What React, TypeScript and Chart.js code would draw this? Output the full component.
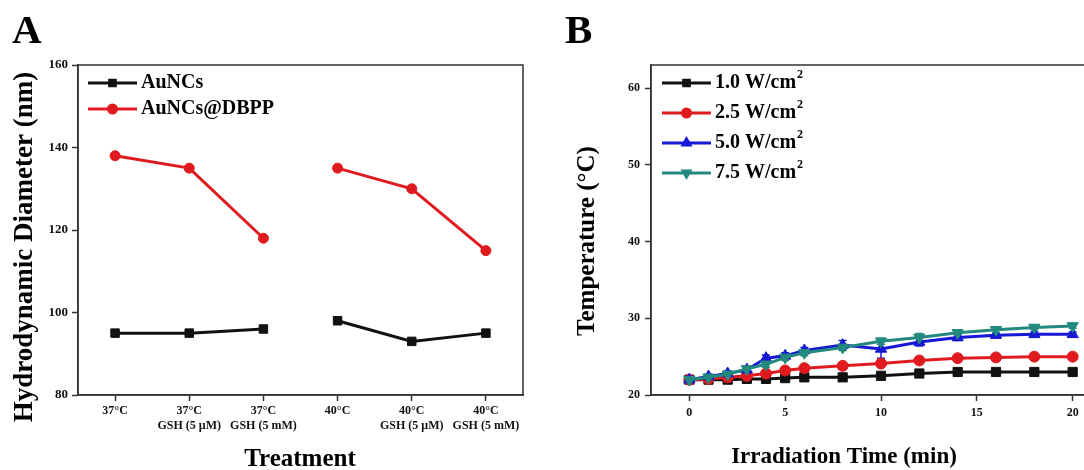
import React, { useEffect, useRef } from "react";
import { Chart, registerables } from "chart.js";
import { drawPoint } from "chart.js/helpers";

Chart.register(...registerables);

const FONT = '"Liberation Serif", "Times New Roman", Times, serif';

// ---------- Panel A data ----------
const treatmentLabels = [
  ["37°C"],
  ["37°C", "GSH (5 μM)"],
  ["37°C", "GSH (5 mM)"],
  ["40°C"],
  ["40°C", "GSH (5 μM)"],
  ["40°C", "GSH (5 mM)"],
];
const aSeriesNames = ["AuNCs", "AuNCs@DBPP"];
const diameterAuNCs = [95, 95, 96, 98, 93, 95];
const diameterAuNCsDBPP = [138, 135, 118, 135, 130, 115];
const aYTicks = [80, 100, 120, 140, 160];
const breakAfterIndex = 2; // the 37°C group and the 40°C group are not joined

// ---------- Panel B data ----------
const timeMin = [0, 1, 2, 3, 4, 5, 6, 8, 10, 12, 14, 16, 18, 20];
const bSeriesNames = ["1.0 W/cm²", "2.5 W/cm²", "5.0 W/cm²", "7.5 W/cm²"];
const temp10 = [22.0, 22.0, 22.0, 22.1, 22.1, 22.2, 22.3, 22.3, 22.5, 22.8, 23.0, 23.0, 23.0, 23.0];
const temp25 = [22.0, 22.1, 22.3, 22.5, 22.8, 23.2, 23.5, 23.8, 24.1, 24.5, 24.8, 24.9, 25.0, 25.0];
const temp50 = [22.0, 22.4, 22.8, 23.3, 24.8, 25.1, 25.8, 26.5, 26.0, 26.9, 27.5, 27.8, 27.9, 27.9];
const temp75 = [22.0, 22.3, 22.7, 23.4, 24.0, 24.9, 25.5, 26.2, 27.0, 27.5, 28.1, 28.5, 28.8, 29.0];
const err10 = [0.2, 0.2, 0.2, 0.2, 0.2, 0.2, 0.2, 0.2, 0.2, 0.2, 0.2, 0.2, 0.2, 0.2];
const err25 = [0.2, 0.2, 0.2, 0.2, 0.2, 0.3, 0.2, 0.3, 0.3, 0.2, 0.2, 0.2, 0.2, 0.2];
const err50 = [0.2, 0.3, 0.3, 0.3, 0.4, 0.4, 0.4, 0.6, 1.2, 0.5, 0.4, 0.3, 0.3, 0.3];
const err75 = [0.2, 0.3, 0.4, 0.3, 0.4, 0.4, 0.4, 0.4, 0.4, 0.5, 0.4, 0.4, 0.3, 0.3];
const bXTicks = [0, 5, 10, 15, 20];
const bYTicks = [20, 30, 40, 50, 60];

// ---------- styles ----------
const AXIS_COLOR = "#333333";
const BLACK = "#111111";
const RED = "#e01b1f";
const BLUE = "#1717d6";
const TEAL = "#23897f";

// ---------- plugins ----------
const framePlugin = {
  id: "frame",
  afterDatasetsDraw(chart: any, _a: any, opts: any) {
    const { ctx, chartArea } = chart;
    ctx.save();
    ctx.strokeStyle = opts.color || AXIS_COLOR;
    ctx.lineWidth = opts.width || 1.5;
    ctx.strokeRect(chartArea.left, chartArea.top, chartArea.right - chartArea.left, chartArea.bottom - chartArea.top);
    ctx.restore();
  },
};

const insideLegendPlugin = {
  id: "insideLegend",
  afterDraw(chart: any, _a: any, opts: any) {
    if (!opts || !opts.items) return;
    const { ctx, chartArea } = chart;
    ctx.save();
    opts.items.forEach((it: any, i: number) => {
      const y = chartArea.top + opts.top + i * opts.rowHeight;
      const x0 = chartArea.left + opts.left;
      const x1 = x0 + opts.lineLength;
      ctx.strokeStyle = it.color;
      ctx.lineWidth = it.lineWidth;
      ctx.beginPath();
      ctx.moveTo(x0, y);
      ctx.lineTo(x1, y);
      ctx.stroke();
      ctx.fillStyle = it.color;
      ctx.strokeStyle = it.color;
      drawPoint(ctx, { pointStyle: it.pointStyle, rotation: it.rotation || 0, radius: it.radius, borderWidth: 1 } as any, (x0 + x1) / 2, y);
      const size = opts.fontSize;
      ctx.fillStyle = "#000";
      ctx.font = `bold ${size}px ${FONT}`;
      ctx.textAlign = "left";
      ctx.textBaseline = "middle";
      const tx = x1 + opts.textGap;
      const label: string = it.text;
      if (label.endsWith("²")) {
        const base = label.slice(0, -1);
        ctx.fillText(base, tx, y);
        const w = ctx.measureText(base).width;
        ctx.font = `bold ${Math.round(size * 0.58)}px ${FONT}`;
        ctx.fillText("2", tx + w + 1, y - size * 0.38);
      } else {
        ctx.fillText(label, tx, y);
      }
    });
    ctx.restore();
  },
};

const textLayerPlugin = {
  id: "textLayer",
  afterDraw(chart: any, _a: any, opts: any) {
    if (!opts || !opts.items) return;
    const { ctx } = chart;
    opts.items.forEach((t: any) => {
      ctx.save();
      ctx.translate(t.x, t.y);
      ctx.rotate(t.rotation || 0);
      ctx.font = `bold ${t.size}px ${FONT}`;
      ctx.fillStyle = "#000";
      ctx.textAlign = t.align || "center";
      ctx.textBaseline = t.baseline || "alphabetic";
      ctx.fillText(t.text, 0, 0);
      ctx.restore();
    });
  },
};

const errorBarPlugin = {
  id: "errorBars",
  beforeDatasetsDraw(chart: any, _a: any, opts: any) {
    if (!opts || !opts.sets) return;
    const { ctx, scales } = chart;
    ctx.save();
    opts.sets.forEach((s: any) => {
      const ds = chart.data.datasets[s.datasetIndex];
      ctx.strokeStyle = ds.borderColor;
      ctx.lineWidth = 1.5;
      ds.data.forEach((p: any, i: number) => {
        const e = s.errors[i];
        const x = scales.x.getPixelForValue(p.x);
        const yTop = scales.y.getPixelForValue(p.y + e);
        const yBot = scales.y.getPixelForValue(p.y - e);
        ctx.beginPath();
        ctx.moveTo(x, yTop);
        ctx.lineTo(x, yBot);
        ctx.moveTo(x - 4, yTop);
        ctx.lineTo(x + 4, yTop);
        ctx.moveTo(x - 4, yBot);
        ctx.lineTo(x + 4, yBot);
        ctx.stroke();
      });
    });
    ctx.restore();
  },
};

const tickGrid = {
  display: true,
  drawOnChartArea: false,
  drawTicks: true,
  tickLength: 6,
  tickColor: AXIS_COLOR,
  tickWidth: 1.5,
};

// ---------- Panel A ----------
function PanelA() {
  const ref = useRef<HTMLCanvasElement>(null);
  useEffect(() => {
    if (!ref.current) return;
    const colors = [BLACK, RED];
    const styles = ["rect", "circle"];
    const radii = [6, 5];
    const values = [diameterAuNCs, diameterAuNCsDBPP];
    const chart = new Chart(ref.current, {
      type: "line",
      data: {
        labels: treatmentLabels as any,
        datasets: aSeriesNames.map((name, i) => ({
          label: name,
          data: values[i],
          borderColor: colors[i],
          backgroundColor: colors[i],
          borderWidth: 3,
          pointStyle: styles[i] as any,
          pointRadius: radii[i],
          pointBorderWidth: 1,
          tension: 0,
          segment: {
            borderColor: (c: any) => (c.p0DataIndex === breakAfterIndex ? "rgba(0,0,0,0)" : colors[i]),
          },
        })),
      },
      options: {
        animation: false,
        responsive: true,
        maintainAspectRatio: false,
        layout: { padding: { top: 65, right: 37, left: 0, bottom: 0 } },
        plugins: {
          legend: { display: false },
          tooltip: { enabled: false },
          frame: {},
          insideLegend: {
            top: 18,
            left: 10,
            rowHeight: 26,
            lineLength: 49,
            textGap: 4,
            fontSize: 20,
            items: aSeriesNames.map((n, i) => ({
              text: n,
              color: colors[i],
              lineWidth: 3,
              pointStyle: styles[i],
              radius: 4,
            })),
          },
          textLayer: {
            items: [
              { text: "A", x: 12, y: 43, size: 41, align: "left" },
              { text: "Hydrodynamic Diameter (nm)", x: 25, y: 247, size: 27, rotation: -Math.PI / 2, baseline: "middle" },
              { text: "Treatment", x: 300, y: 466, size: 25 },
            ],
          },
        } as any,
        scales: {
          x: {
            type: "category",
            offset: true,
            grid: { ...tickGrid, offset: false },
            border: { display: true, color: AXIS_COLOR, width: 1.5 },
            ticks: {
              color: "#111",
              font: { family: FONT, size: 12, weight: "bold", lineHeight: 1.25 },
              padding: 2,
              maxRotation: 0,
              autoSkip: false,
            },
            afterFit: (s: any) => {
              s.height = 75;
            },
          },
          y: {
            type: "linear",
            min: 80,
            max: 160,
            grid: tickGrid,
            border: { display: true, color: AXIS_COLOR, width: 1.5 },
            ticks: {
              color: "#111",
              font: { family: FONT, size: 13, weight: "bold" },
              padding: 4,
            },
            afterBuildTicks: (s: any) => {
              s.ticks = aYTicks.map((v) => ({ value: v }));
            },
            afterFit: (s: any) => {
              s.width = 78;
            },
          },
        },
      },
      plugins: [framePlugin, insideLegendPlugin, textLayerPlugin],
    } as any);
    return () => chart.destroy();
  }, []);
  return (
    <div style={{ position: "absolute", left: 0, top: 0, width: 560, height: 470 }}>
      <canvas ref={ref} />
    </div>
  );
}

// ---------- Panel B ----------
function PanelB() {
  const ref = useRef<HTMLCanvasElement>(null);
  useEffect(() => {
    if (!ref.current) return;
    const colors = [BLACK, RED, BLUE, TEAL];
    const styles = ["rect", "circle", "triangle", "triangle"];
    const rotations = [0, 0, 0, 180];
    const radii = [6.5, 5.5, 6.5, 6.5];
    const values = [temp10, temp25, temp50, temp75];
    const errors = [err10, err25, err50, err75];
    const drawOrder = [4, 3, 2, 1];
    const chart = new Chart(ref.current, {
      type: "line",
      data: {
        datasets: bSeriesNames.map((name, i) => ({
          label: name,
          data: timeMin.map((t, j) => ({ x: t, y: values[i][j] })),
          borderColor: colors[i],
          backgroundColor: colors[i],
          borderWidth: 3,
          pointStyle: styles[i] as any,
          pointRotation: rotations[i],
          pointRadius: radii[i],
          pointBorderWidth: 1,
          tension: 0,
          order: drawOrder[i],
        })),
      },
      options: {
        animation: false,
        responsive: true,
        maintainAspectRatio: false,
        layout: { padding: { top: 65, right: 29, left: 0, bottom: 0 } },
        plugins: {
          legend: { display: false },
          tooltip: { enabled: false },
          frame: {},
          errorBars: { sets: errors.map((e, i) => ({ datasetIndex: i, errors: e })) },
          insideLegend: {
            top: 18,
            left: 11,
            rowHeight: 30,
            lineLength: 49,
            textGap: 4,
            fontSize: 20,
            items: bSeriesNames.map((n, i) => ({
              text: n,
              color: colors[i],
              lineWidth: 3,
              pointStyle: styles[i],
              rotation: rotations[i],
              radius: 4,
            })),
          },
          textLayer: {
            items: [
              { text: "B", x: 5, y: 43, size: 41, align: "left" },
              { text: "Temperature (°C)", x: 28, y: 241, size: 25, rotation: -Math.PI / 2, baseline: "middle" },
              { text: "Irradiation Time (min)", x: 284, y: 463, size: 23 },
            ],
          },
        } as any,
        scales: {
          x: {
            type: "linear",
            min: -2,
            max: 22,
            grid: tickGrid,
            border: { display: true, color: AXIS_COLOR, width: 1.5 },
            ticks: {
              color: "#111",
              font: { family: FONT, size: 12, weight: "bold" },
              padding: 5,
            },
            afterBuildTicks: (s: any) => {
              s.ticks = bXTicks.map((v) => ({ value: v }));
            },
            afterFit: (s: any) => {
              s.height = 75;
            },
          },
          y: {
            type: "linear",
            min: 20,
            max: 63,
            grid: tickGrid,
            border: { display: true, color: AXIS_COLOR, width: 1.5 },
            ticks: {
              color: "#111",
              font: { family: FONT, size: 12, weight: "bold" },
              padding: 5,
            },
            afterBuildTicks: (s: any) => {
              s.ticks = bYTicks.map((v) => ({ value: v }));
            },
            afterFit: (s: any) => {
              s.width = 91;
            },
          },
        },
      },
      plugins: [framePlugin, errorBarPlugin, insideLegendPlugin, textLayerPlugin],
    } as any);
    return () => chart.destroy();
  }, []);
  return (
    <div style={{ position: "absolute", left: 560, top: 0, width: 580, height: 470 }}>
      <canvas ref={ref} />
    </div>
  );
}

export default function App() {
  return (
    <div
      style={{
        position: "fixed",
        left: 0,
        top: 0,
        width: 1084,
        height: 470,
        overflow: "hidden",
        background: "#ffffff",
      }}
    >
      <PanelA />
      <PanelB />
    </div>
  );
}
